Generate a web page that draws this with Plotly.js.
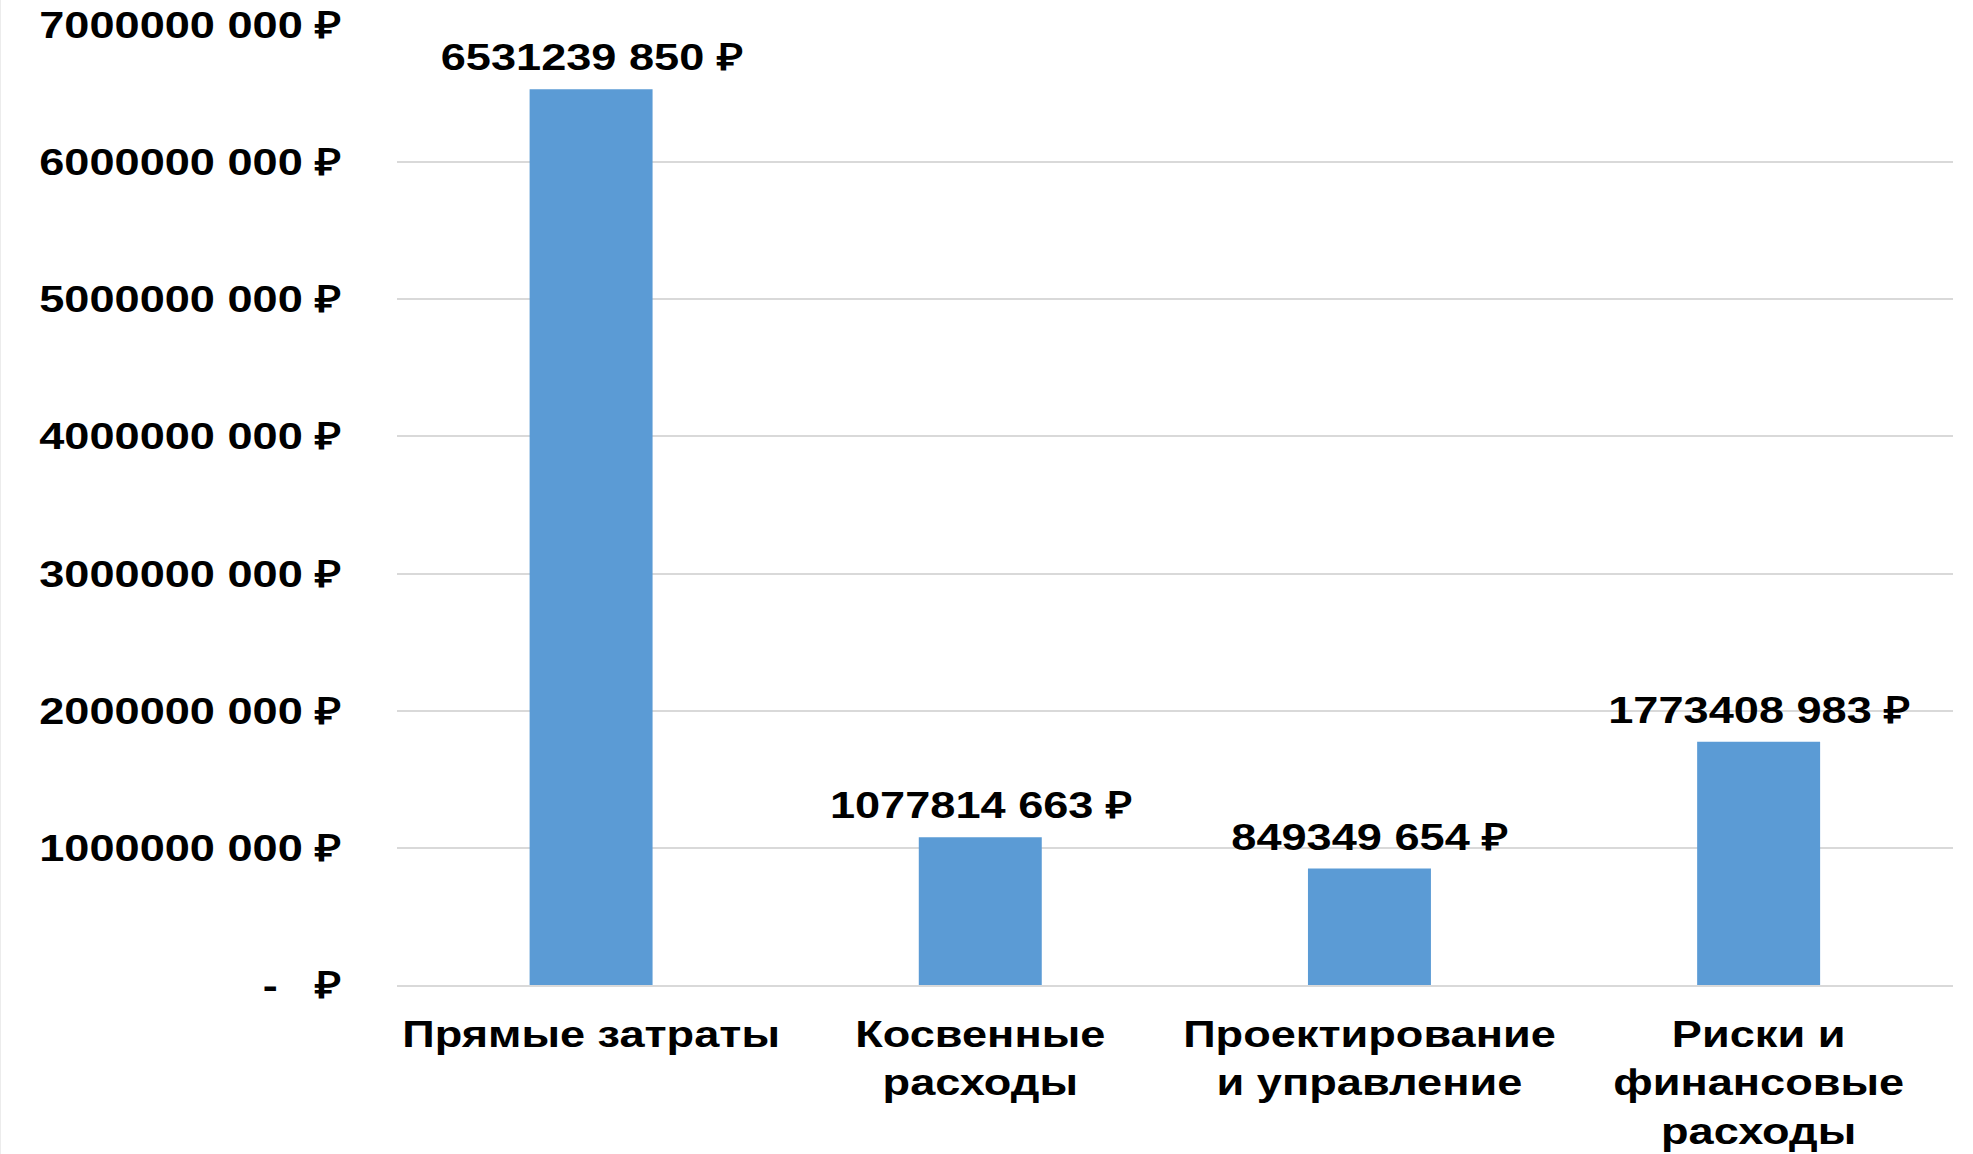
<!DOCTYPE html>
<html>
<head>
<meta charset="utf-8">
<script src="https://cdn.plot.ly/plotly-3.0.1.min.js"></script>
<style>
html,body{margin:0;padding:0;background:#fff;overflow:hidden;}
#wrap{position:relative;width:1973px;height:1154px;overflow:hidden;}
#edge{position:absolute;left:0;top:0;width:1px;height:1154px;background:#ececec;z-index:2;}
#chart{position:absolute;left:0;top:0;width:1617px;height:1154px;transform:scaleX(1.22);transform-origin:0 0;}
</style>
</head>
<body>
<div id="wrap"><div id="edge"></div><div id="chart"></div></div>
<script>
const categories = ["Прямые затраты", "Косвенные<br>расходы", "Проектирование<br>и управление", "Риски и<br>финансовые<br>расходы"];
const values = [6531239850, 1077814663, 849349654, 1773408983];
const valueLabels = ["6531239 850 ₽", "1077814 663 ₽", "849349 654 ₽", "1773408 983 ₽"];
const tickValues = [0, 1000000000, 2000000000, 3000000000, 4000000000, 5000000000, 6000000000, 7000000000];
const tickLabels = ["-   ₽", "1000000 000 ₽", "2000000 000 ₽", "3000000 000 ₽", "4000000 000 ₽", "5000000 000 ₽", "6000000 000 ₽", "7000000 000 ₽"];

const FONT = "'Liberation Sans', Arial, sans-serif";
const SIZE = 37;

const trace = {
  type: "bar",
  x: categories,
  y: values,
  marker: {color: "#5b9bd5"},
  hoverinfo: "none"
};

const annotations = categories.map((c, i) => ({
  x: c, y: values[i], xref: "x", yref: "y",
  text: valueLabels[i], showarrow: false,
  yanchor: "bottom", yshift: 9,
  font: {family: FONT, size: SIZE, color: "#000", weight: "bold"}
}));

const layout = {
  width: 1617, height: 1154,
  margin: {l: 325, r: 16, t: 25, b: 169},
  paper_bgcolor: "#fff", plot_bgcolor: "#fff",
  bargap: 0.684,
  showlegend: false,
  font: {family: FONT, size: SIZE, color: "#000", weight: "bold"},
  xaxis: {
    type: "category",
    showgrid: false, zeroline: false,
    showline: true, linecolor: "#d9d9d9", linewidth: 2,
    ticks: "", ticklabelstandoff: 16,
    tickfont: {family: FONT, size: SIZE, color: "#000", weight: "bold"}
  },
  yaxis: {
    range: [0, 7000000000],
    tickvals: tickValues, ticktext: tickLabels,
    showgrid: true, gridcolor: "#d9d9d9", gridwidth: 2,
    zeroline: false, showline: false, ticks: "",
    ticklabelstandoff: 44,
    tickfont: {family: FONT, size: SIZE, color: "#000", weight: "bold"}
  },
  annotations: annotations
};

Plotly.newPlot("chart", [trace], layout, {displayModeBar: false, staticPlot: true});
</script>
</body>
</html>
